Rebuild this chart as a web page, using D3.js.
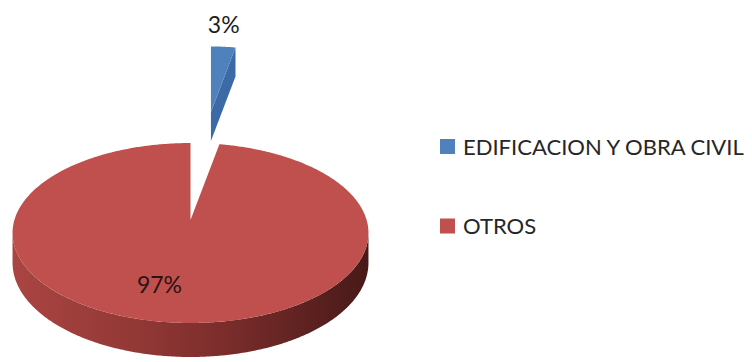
<!DOCTYPE html>
<html>
<head>
<meta charset="utf-8">
<script src="https://cdn.jsdelivr.net/npm/d3@7"></script>
<style>
  html, body { margin: 0; padding: 0; background: #ffffff; }
  svg { display: block; }
  text { font-family: Lato, "Noto Sans", sans-serif; }
</style>
</head>
<body>
<svg id="chart" width="752" height="362"></svg>
<script>
// Chart data
const categories = ["EDIFICACION Y OBRA CIVIL", "OTROS"];
const values = [3, 97];
const valueLabels = ["3%", "97%"];

// Styling
const topColors = ["#4f81bd", "#c0504d"];
const faceColors = ["#3c6aa6", "#8a3330"];
const explodeDist = [110, 0];

const svg = d3.select("#chart");

// Perspective projection of the pie disc (u: right, w: away from viewer)
const cx = 190.5, cy = 220;
const S = 176.1, T = 88.1, persp = 0.1444, depth = 29.1;
const xScale = d3.scaleLinear().domain([-1, 1]).range([cx - S, cx + S]);
const yScale = d3.scaleLinear().domain([-1, 1]).range([cy + T, cy - T]);
function proj(u, w, down = 0) {
  const d = 1 + persp * w;
  return [cx + (xScale(u) - cx) / d, cy + (yScale(w) - cy) / d + down * depth / d];
}
const rim = (a, down = 0) => proj(Math.sin(a), Math.cos(a), down);

const pie = d3.pie().sort(null).startAngle(0).endAngle(2 * Math.PI);
const arcs = pie(values);

function sample(a0, a1) {
  const n = Math.max(2, Math.ceil(Math.abs(a1 - a0) / 0.01));
  return d3.range(n + 1).map(i => a0 + (a1 - a0) * i / n);
}

const line = d3.line();
const defs = svg.append("defs");
const wallGrad = defs.append("linearGradient")
  .attr("id", "wallGrad").attr("gradientUnits", "userSpaceOnUse")
  .attr("x1", cx - S * 1.02).attr("x2", cx + S * 1.02).attr("y1", 0).attr("y2", 0);
[[0, "#aa4543"], [0.35, "#923835"], [0.6, "#7a2d2b"], [1, "#471918"]].forEach(([o, c]) =>
  wallGrad.append("stop").attr("offset", o).attr("stop-color", c));

// Visible part of the outer wall (front half, between the silhouette extremes)
const visA0 = Math.acos(-persp), visA1 = 2 * Math.PI - Math.acos(-persp);

const pieG = svg.append("g");

arcs.forEach((d, i) => {
  const a0 = d.startAngle, a1 = d.endAngle;
  const mid = (a0 + a1) / 2;
  const apex0 = proj(0, 0);
  let tf = p => p;
  if (explodeDist[i] > 0) {
    const m = rim(mid);
    const dx = m[0] - apex0[0], dy = m[1] - apex0[1];
    const len = Math.hypot(dx, dy);
    const A = [apex0[0] + dx / len * explodeDist[i], apex0[1] + dy / len * explodeDist[i]];
    const k = 0.85;
    tf = p => [A[0] + k * (p[0] - apex0[0]), A[1] + k * (p[1] - apex0[1])];
  }
  const g = pieG.append("g");
  const topPts = [tf(apex0)].concat(sample(a0, a1).map(a => tf(rim(a))));

  if (explodeDist[i] > 0) {
    // radial cut face at the end angle, facing the viewer
    const hb = 29;
    const A = tf(apex0), P = tf(rim(a1));
    g.append("path")
      .attr("d", line([A, P, [P[0], P[1] + hb], [A[0], A[1] + hb]]) + "Z")
      .attr("fill", faceColors[i]);
    // label above the slice
    const P0 = tf(rim(a0));
    g.append("text")
      .attr("x", (P0[0] + P[0]) / 2 + 0.5)
      .attr("y", Math.min(P0[1], P[1]) - 13)
      .attr("text-anchor", "middle")
      .attr("font-size", 23)
      .attr("fill", "#1e1e1e")
      .text(valueLabels[i]);
  } else {
    // outer wall
    const w0 = Math.max(a0, visA0), w1 = Math.min(a1, visA1);
    if (w1 > w0) {
      const s = sample(w0, w1);
      const wallPts = s.map(a => rim(a)).concat(s.slice().reverse().map(a => rim(a, 1)));
      g.append("path").attr("d", line(wallPts) + "Z").attr("fill", "url(#wallGrad)");
    }
  }
  g.append("path").attr("d", line(topPts) + "Z").attr("fill", topColors[i]);

  if (explodeDist[i] === 0) {
    g.append("text")
      .attr("x", cx - 31)
      .attr("y", cy + 73)
      .attr("text-anchor", "middle")
      .attr("font-size", 23)
      .attr("fill", "#2a1414")
      .text(valueLabels[i]);
  }
});

// Legend
const legend = svg.append("g").attr("transform", "translate(440,0)");
const legendY = d3.scalePoint().domain(categories).range([146.5, 226]);
const legendTexts = [];
let legendFont = 23.5;
categories.forEach((c, i) => {
  const y = legendY(c);
  legend.append("rect")
    .attr("x", 0).attr("y", y - 7.5).attr("width", 15).attr("height", 15)
    .attr("fill", topColors[i]);
  legendTexts.push(legend.append("text")
    .attr("x", 23).attr("y", y + 8)
    .attr("font-size", legendFont)
    .attr("fill", "#262626")
    .text(c));
});
// Shrink the legend font so the longest label fits the space on the right
const maxWidth = 752 - 440 - 23 - 8;
const widest = d3.max(legendTexts, t => t.node().getComputedTextLength());
if (widest > maxWidth) {
  legendFont = legendFont * maxWidth / widest;
  legendTexts.forEach(t => t.attr("font-size", legendFont));
}
</script>
</body>
</html>
